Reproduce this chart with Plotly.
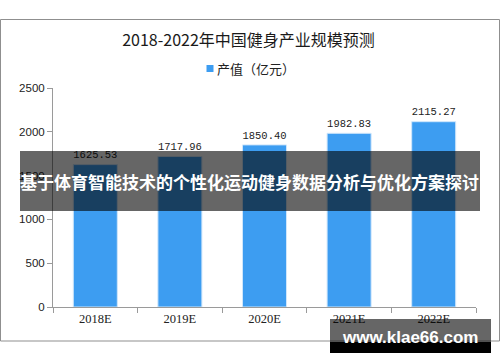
import plotly.graph_objects as go

categories = ["2018E", "2019E", "2020E", "2021E", "2022E"]
values = [1625.53, 1717.96, 1850.40, 1982.83, 2115.27]
value_labels = ["1625.53", "1717.96", "1850.40", "1982.83", "2115.27"]
y_ticks = [0, 500, 1000, 1500, 2000, 2500]
series_name = "产值（亿元）"
chart_title = "2018-2022年中国健身产业规模预测"
banner_text = "基于体育智能技术的个性化运动健身数据分析与优化方案探讨"
site_text = "www.klae66.com"

W, H = 500, 362
L, R, T, B = 53, 24, 88, 55
PW, PH = W - L - R, H - T - B

def px(x):
    return (x - L) / PW

def py(y):
    return (H - B - y) / PH

BAR = "#3d9df1"
AX = "#9a9a9a"

fig = go.Figure()
fig.add_trace(go.Bar(
    x=categories, y=values, name=series_name,
    marker=dict(color=BAR, line=dict(color="#cfe6fb", width=1)),
    width=0.52,
    text=value_labels, textposition="outside",
    textfont=dict(family="Liberation Mono, DejaVu Sans Mono", size=13, color="#222"),
    cliponaxis=False, showlegend=False,
))

shapes = [
    # chart border
    dict(type="rect", xref="paper", yref="paper", x0=px(0.5), x1=px(499.5), y0=py(19.5), y1=py(341),
         line=dict(color="#8f8f8f", width=1), fillcolor="rgba(0,0,0,0)", layer="below"),
    # legend swatch
    dict(type="rect", xref="paper", yref="paper", x0=px(206.5), x1=px(213.5), y0=py(65), y1=py(72),
         line=dict(width=0), fillcolor=BAR, layer="above"),
    # banner overlay
    dict(type="rect", xref="paper", yref="paper", x0=px(20), x1=px(480), y0=py(151), y1=py(211),
         line=dict(width=0), fillcolor="rgba(0,0,0,0.6)", layer="above"),
    # site box
    dict(type="rect", xref="paper", yref="paper", x0=px(330), x1=px(491), y0=py(319), y1=py(342),
         line=dict(width=0), fillcolor="rgba(0,0,0,0.6)", layer="above"),
    dict(type="rect", xref="paper", yref="paper", x0=px(330), x1=px(491), y0=py(342), y1=py(353),
         line=dict(width=0), fillcolor="#000000", layer="above"),
]

annotations = [
    dict(text=series_name, xref="paper", yref="paper", x=px(215), y=py(69),
         xanchor="left", yanchor="middle", showarrow=False,
         font=dict(family="Noto Sans CJK SC", size=13, color="#222")),
    dict(text=banner_text, xref="paper", yref="paper", x=px(249), y=py(181),
         xanchor="center", yanchor="middle", showarrow=False,
         font=dict(family="Noto Sans CJK SC", size=17, color="white", weight="bold")),
    dict(text=site_text, xref="paper", yref="paper", x=px(410), y=py(337),
         xanchor="center", yanchor="middle", showarrow=False,
         font=dict(family="Liberation Sans, Arial", size=17, color="white", weight="bold")),
]

fig.update_layout(
    width=W, height=H,
    margin=dict(l=L, r=R, t=T, b=B),
    paper_bgcolor="white", plot_bgcolor="white",
    title=dict(text=chart_title, x=0.497, xanchor="center", y=1 - 40 / H, yanchor="middle",
               font=dict(family="Noto Sans CJK SC", size=16, color="#1a1a1a")),
    showlegend=False,
    xaxis=dict(showline=True, linecolor=AX, linewidth=1, ticks="outside", ticklen=5,
               tickcolor=AX, tickson="boundaries", showgrid=False,
               tickfont=dict(family="Liberation Serif, DejaVu Serif", size=12.5, color="#222")),
    yaxis=dict(range=[0, 2500], tickvals=y_ticks, showline=True, linecolor=AX, linewidth=1,
               ticks="outside", ticklen=5, tickcolor=AX, showgrid=False, zeroline=False,
               tickfont=dict(family="Liberation Sans, Arial", size=11.5, color="#222")),
    bargap=0.48,
    shapes=shapes,
    annotations=annotations,
)

fig.write_html("out.html")
